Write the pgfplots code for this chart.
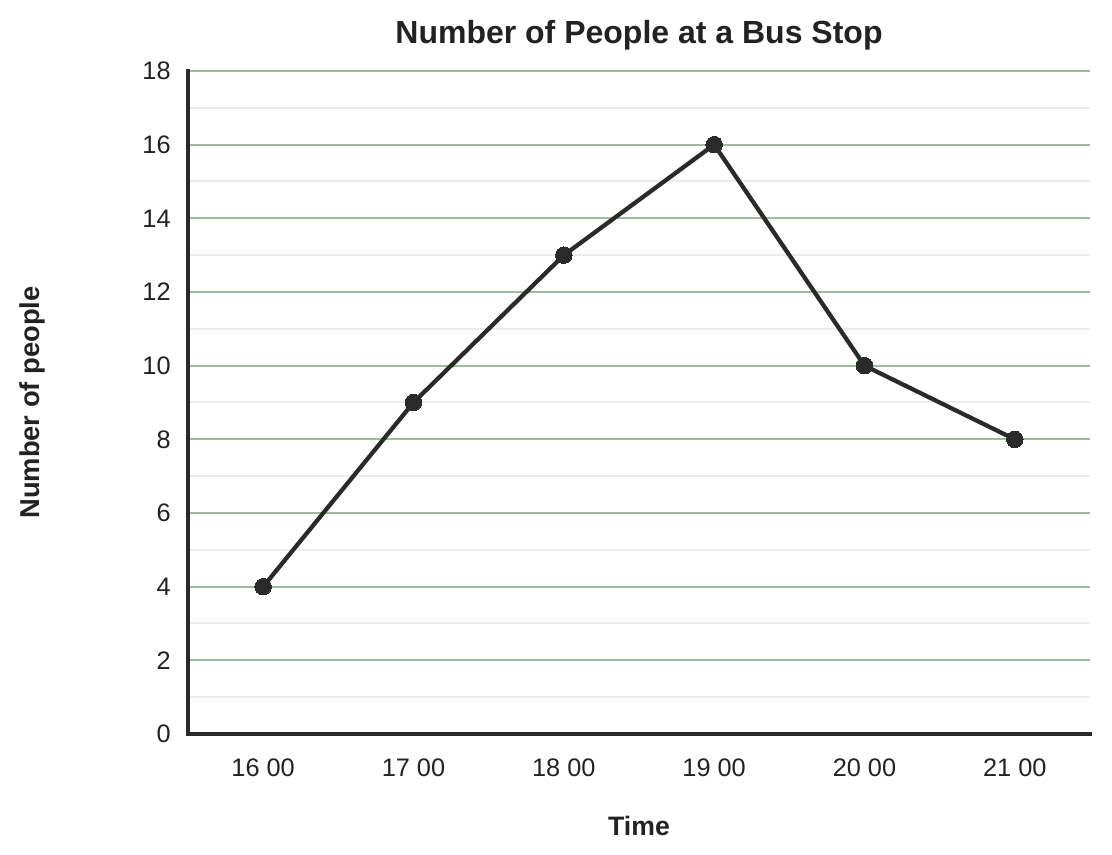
\documentclass[border=0pt]{standalone}
\usepackage{fontspec}
\setmainfont{Liberation Sans}
\usepackage{pgfplots}
\pgfplotsset{compat=1.18}

\definecolor{linec}{HTML}{2A2A2A}
\definecolor{majgrid}{HTML}{9CBF99}
\definecolor{mingrid}{HTML}{E8EFE8}
\definecolor{textc}{HTML}{222222}

\begin{document}
\begin{tikzpicture}
% page frame, 1 px = 0.75 pt
\path[use as bounding box] (0,0) rectangle (834pt,641.25pt);
\begin{axis}[
    at={(141pt,90.75pt)}, anchor=south west,
    scale only axis, width=676.5pt, height=497.25pt,
    xmin=-0.5, xmax=5.5, ymin=0, ymax=18,
    axis x line*=bottom, axis y line*=left,
    axis line style={line width=3pt, color=linec, line cap=rect},
    xtick={0,...,5},
    xticklabels={16 00,17 00,18 00,19 00,20 00,21 00},
    ytick={0,2,...,18}, minor ytick={1,3,...,17},
    major tick length=0pt, minor tick length=0pt,
    ymajorgrids, yminorgrids,
    major grid style={line width=1.5pt, majgrid},
    minor grid style={line width=1.5pt, mingrid},
    /pgf/number format/assume math mode=true,
    tick label style={font=\fontsize{19}{20}\selectfont, text=textc},
    yticklabel style={xshift=-9.5pt},
    xticklabel style={yshift=-15pt},
    title={Number of People at a Bus Stop},
    title style={font=\fontsize{24}{26}\bfseries, text=textc, at={(0.5,1)}, anchor=center, yshift=20.5pt},
    xlabel={Time},
    xlabel style={font=\fontsize{20}{22}\selectfont\bfseries, text=textc, at={(axis description cs:0.5,0)}, anchor=center, yshift=-69pt},
    ylabel={Number of people},
    ylabel style={font=\fontsize{20.5}{22}\selectfont\bfseries, text=textc, at={(axis description cs:-0.173,0.5)}, anchor=center},
    clip=false,
]
\addplot[line width=3.2pt, color=linec, line join=round,
    mark=*, mark size=6.2pt, mark options={fill=linec, draw=linec, line width=0pt}]
    coordinates {(0,4) (1,9) (2,13) (3,16) (4,10) (5,8)};
\end{axis}
\end{tikzpicture}
\end{document}
